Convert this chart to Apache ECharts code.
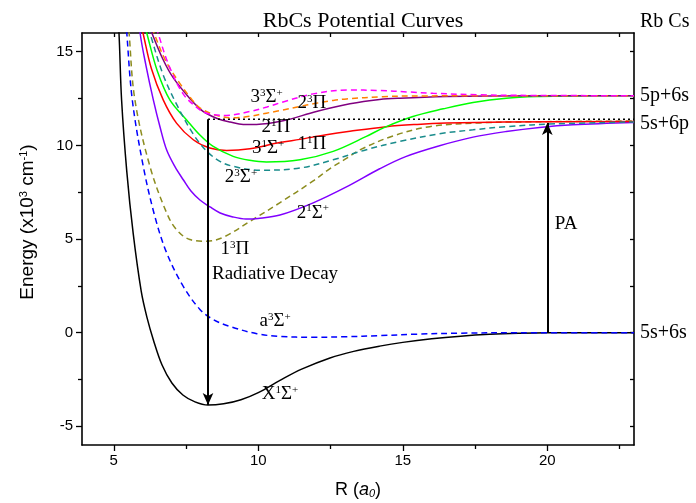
<!DOCTYPE html>
<html><head><meta charset="utf-8">
<script src="https://cdn.jsdelivr.net/npm/echarts@6/dist/echarts.min.js"></script>
<style>html,body{margin:0;padding:0;background:#fff}#c{width:696px;height:503px}</style>
</head><body><div id="c"></div>
<script>
// ---- data (R in a0, energy in 10^3 cm^-1) ----
const X1Sigma = [[5.12,17.2],[5.18,16],[5.27,12.42],[5.45,8.6],[5.67,5.31],[5.95,2.2],[6.15,0.8],[6.37,-0.39],[6.67,-1.73],[7.01,-2.69],[7.39,-3.33],[7.81,-3.7],[8.26,-3.87],[8.8,-3.8],[9.4,-3.58],[10.0,-3.2],[10.75,-2.55],[11.5,-1.95],[12.48,-1.35],[13.3,-1.0],[14.2,-0.72],[15,-0.52],[16,-0.33],[17,-0.19],[18,-0.09],[19,-0.03],[20,0],[23,0]];
const a3Sigma = [[5.4,17.2],[5.45,16],[5.64,12.43],[6.02,8.88],[6.42,6.21],[6.83,4.26],[7.4,2.48],[7.98,1.24],[8.43,0.71],[9.0,0.34],[9.95,-0.06],[10.74,-0.2],[11.88,-0.25],[13,-0.22],[14.2,-0.16],[15.5,-0.08],[17,-0.03],[19,0],[23,0]];
const b3Pi = [[5.48,17.2],[5.53,16],[5.73,12.43],[6.25,8.88],[6.83,6.39],[7.17,5.5],[7.63,4.97],[8.21,4.88],[8.8,5.1],[9.77,6.0],[10.74,6.93],[11.9,8.1],[12.47,8.75],[13.05,9.3],[13.5,9.75],[14.66,10.5],[15.93,11.0],[17.66,11.2],[19,11.25],[23,11.3]];
const A1Sigma = [[5.86,17.2],[5.91,16],[6.11,14.29],[6.37,12.42],[6.6,10.98],[6.83,9.75],[7.12,8.85],[7.41,8.15],[7.67,7.56],[7.98,7.08],[8.33,6.71],[8.68,6.39],[9.12,6.18],[9.57,6.07],[9.99,6.1],[10.75,6.28],[11.9,6.93],[13.05,7.78],[14.2,8.75],[15.1,9.4],[16.27,9.98],[17.43,10.44],[18.58,10.74],[19.73,10.96],[20.88,11.1],[23,11.22]];
const B1Pi = [[5.96,16.3],[6.01,16],[6.3,14.1],[6.71,12.43],[7.17,11.19],[7.75,10.3],[8.32,9.86],[8.9,9.73],[9.71,9.82],[10.74,10.15],[11.44,10.32],[12.3,10.55],[13.17,10.75],[14.43,11.0],[15.5,11.12],[16.5,11.19],[18.5,11.25],[23,11.28]];
const S31Sigma = [[6.09,16.3],[6.14,16],[6.5,14],[6.94,12.43],[7.52,11.36],[7.98,10.55],[8.44,9.94],[9.13,9.41],[9.7,9.2],[10.28,9.11],[11.44,9.23],[12.59,9.68],[13.74,10.48],[14.35,10.95],[15.35,11.54],[16.4,11.95],[17.43,12.29],[18.58,12.52],[19.73,12.61],[21,12.64],[23,12.65]];
const S23Sigma = [[6.2,16.3],[6.25,16],[6.7,13.8],[7.17,12.2],[7.75,10.6],[8.21,9.7],[8.67,9.15],[9.13,8.88],[10.05,8.67],[11.44,8.79],[12.59,9.23],[13.74,9.77],[14.9,10.21],[16.27,10.62],[17.43,10.83],[18.58,11.0],[20.3,11.15],[23,11.25]];
const P21Pi = [[6.27,16.3],[6.32,16],[6.7,14.6],[7.06,13.6],[7.63,12.5],[7.98,11.95],[8.21,11.7],[8.6,11.42],[9.02,11.25],[9.48,11.12],[9.94,11.12],[10.86,11.31],[12.01,11.81],[13.17,12.22],[14.2,12.45],[14.9,12.52],[16.51,12.61],[18,12.64],[23,12.65]];
const P23Pi = [[6.34,16.3],[6.39,16],[6.8,14.5],[7.29,13.3],[7.7,12.45],[7.98,12.0],[8.55,11.6],[9.13,11.47],[9.7,11.55],[10.28,11.72],[10.74,11.85],[11.44,12.08],[11.9,12.22],[12.59,12.4],[13.05,12.48],[14.31,12.6],[15.35,12.64],[23,12.65]];
const S33Sigma = [[6.48,16.3],[6.53,16],[6.9,14.3],[7.4,12.75],[7.98,11.9],[8.32,11.68],[8.9,11.6],[9.71,11.81],[10.3,12.05],[10.86,12.32],[11.9,12.75],[13.1,12.96],[14.2,12.93],[15.2,12.85],[16.05,12.78],[17.66,12.7],[19,12.67],[23,12.65]];
const paLevel = [[8.26,11.4],[23,11.4]];
const decayArrow = [[8.26,11.4],[8.26,-3.87]];
const paArrow = [[20,0],[20,11.2]];

const xLabelTicks = [5,10,15,20];
const xMinorTicks = [7.5,12.5,17.5,22.5];
const xAllTicks = [5,7.5,10,12.5,15,17.5,20,22.5];
const yLabelTicks = [-5,0,5,10,15];
const yMinorTicks = [-2.5,2.5,7.5,12.5];
const yAllTicks = [-5,-2.5,0,2.5,5,7.5,10,12.5,15];

const curveLabels = [
  ['3{s|3}Σ{s|+}', 10.29, 12.6],
  ['2{s|3}Π', 11.85, 12.27],
  ['2{s|1}Π', 10.61, 10.99],
  ['1{s|1}Π', 11.85, 10.09],
  ['3{s|1}Σ{s|+}', 10.34, 9.87],
  ['2{s|3}Σ{s|+}', 9.4, 8.33],
  ['2{s|1}Σ{s|+}', 11.89, 6.41],
  ['1{s|3}Π', 9.19, 4.44],
  ['Radiative Decay', 10.58, 3.11],
  ['a{s|3}Σ{s|+}', 10.58, 0.6],
  ['X{s|1}Σ{s|+}', 10.75, -3.3],
  ['PA', 20.65, 5.82]
];
const asymptoteLabels = [['5p+6s', 12.65], ['5s+6p', 11.15], ['5s+6s', 0]];

// ---- styles ----
const SERIF = '"Liberation Serif","Times New Roman",serif';
const SANS = '"Liberation Sans",Arial,sans-serif';
const curveDefs = [
  {data: X1Sigma, color: '#000000', dashed: false},
  {data: a3Sigma, color: '#0000ff', dashed: true},
  {data: b3Pi, color: '#8c8c1e', dashed: true},
  {data: A1Sigma, color: '#8000ff', dashed: false},
  {data: B1Pi, color: '#ff0000', dashed: false},
  {data: S31Sigma, color: '#00ff00', dashed: false},
  {data: S23Sigma, color: '#1a8c8c', dashed: true},
  {data: P21Pi, color: '#800080', dashed: false},
  {data: P23Pi, color: '#ff8000', dashed: true},
  {data: S33Sigma, color: '#ff00ff', dashed: true}
];

const chart = echarts.init(document.getElementById('c'), null, {renderer: 'canvas'});
const axisLineStyle = {color: '#000', width: 1.6};
const series = curveDefs.map(d => ({
  type: 'line', data: d.data, showSymbol: false, smooth: 0.35, clip: true,
  xAxisIndex: 0, yAxisIndex: 0, silent: true,
  lineStyle: {color: d.color, width: 1.5, type: d.dashed ? [6, 4] : 'solid'}
}));
series.push({type: 'line', data: paLevel, showSymbol: false, xAxisIndex: 0, yAxisIndex: 0,
  lineStyle: {color: '#000', width: 1.5, type: [2, 3]}});
series.push({type: 'line', data: [], xAxisIndex: 0, yAxisIndex: 0,
  markLine: {silent: true, symbol: ['none', 'arrow'], symbolSize: [8, 12], label: {show: false},
    lineStyle: {color: '#000', width: 2, type: 'solid'},
    data: [
      [{coord: decayArrow[0]}, {coord: decayArrow[1]}],
      [{coord: paArrow[0]}, {coord: paArrow[1]}]
    ]}});

const xBase = {type: 'value', min: 3.9, max: 23, splitLine: {show: false}};
const yBase = {type: 'value', min: -6, max: 16, splitLine: {show: false}};
chart.setOption({
  animation: false,
  backgroundColor: '#fff',
  title: {text: 'RbCs Potential Curves', left: 358, top: 5, textAlign: 'center',
    textStyle: {fontFamily: SERIF, fontSize: 22, fontWeight: 'normal', color: '#000'}},
  grid: {left: 82, right: 62, top: 33, bottom: 58, containLabel: false, outerBoundsMode: 'none'},
  xAxis: [
    Object.assign({}, xBase, {position: 'bottom', axisLine: {show: true, onZero: false, lineStyle: axisLineStyle},
      axisTick: {show: true, inside: false, length: 6, customValues: xLabelTicks, lineStyle: {color: '#000', width: 1.3}},
      axisLabel: {show: true, customValues: xLabelTicks, margin: 8, color: '#000', fontFamily: SANS, fontSize: 15}}),
    Object.assign({}, xBase, {position: 'bottom', axisLine: {show: false, onZero: false},
      axisTick: {show: true, inside: false, length: 4, customValues: xMinorTicks, lineStyle: {color: '#000', width: 1.3}},
      axisLabel: {show: false}}),
    Object.assign({}, xBase, {position: 'top', axisLine: {show: true, onZero: false, lineStyle: axisLineStyle},
      axisTick: {show: true, inside: true, length: 4, customValues: xAllTicks, lineStyle: {color: '#000', width: 1.3}},
      axisLabel: {show: false}})
  ],
  yAxis: [
    Object.assign({}, yBase, {position: 'left', axisLine: {show: true, onZero: false, lineStyle: axisLineStyle},
      axisTick: {show: true, inside: false, length: 6, customValues: yLabelTicks, lineStyle: {color: '#000', width: 1.3}},
      axisLabel: {show: true, customValues: yLabelTicks, margin: 9, color: '#000', fontFamily: SANS, fontSize: 15}}),
    Object.assign({}, yBase, {position: 'left', axisLine: {show: false, onZero: false},
      axisTick: {show: true, inside: false, length: 4, customValues: yMinorTicks, lineStyle: {color: '#000', width: 1.3}},
      axisLabel: {show: false}}),
    Object.assign({}, yBase, {position: 'right', axisLine: {show: true, onZero: false, lineStyle: axisLineStyle},
      axisTick: {show: true, inside: true, length: 4, customValues: yAllTicks, lineStyle: {color: '#000', width: 1.3}},
      axisLabel: {show: false}})
  ],
  series: series
});

// ---- text annotations placed through the axes ----
const supRich = {s: {fontSize: 11, fontFamily: SERIF, fill: '#000', verticalAlign: 'top'}};
const graphics = [];
curveLabels.forEach(([t, x, y]) => {
  const p = chart.convertToPixel({xAxisIndex: 0, yAxisIndex: 0}, [x, y]);
  graphics.push({type: 'text', x: p[0], y: p[1], silent: true, z: 100,
    style: {text: t, fontFamily: SERIF, fontSize: 19, fill: '#000', align: 'center', verticalAlign: 'middle', rich: supRich}});
});
const rightX = chart.convertToPixel({xAxisIndex: 0}, 23) + 6;
asymptoteLabels.forEach(([t, y]) => {
  const py = chart.convertToPixel({yAxisIndex: 0}, y);
  graphics.push({type: 'text', x: rightX, y: py, silent: true, z: 100,
    style: {text: t, fontFamily: SERIF, fontSize: 20, fill: '#000', align: 'left', verticalAlign: 'middle'}});
});
graphics.push({type: 'text', x: rightX, y: 22, silent: true,
  style: {text: 'Rb Cs', fontFamily: SERIF, fontSize: 20, fill: '#000', align: 'left', verticalAlign: 'middle'}});
graphics.push({type: 'text', x: 28, y: 222, rotation: Math.PI / 2, silent: true,
  style: {text: 'Energy (x10{s|3} cm{s|-1})', fontFamily: SANS, fontSize: 19, fill: '#000', align: 'center', verticalAlign: 'middle',
    rich: {s: {fontSize: 11, fontFamily: SANS, fill: '#000', verticalAlign: 'top'}}}});
graphics.push({type: 'text', x: 358, y: 490, silent: true,
  style: {text: 'R ({i|a}{b|0})', fontFamily: SANS, fontSize: 18, fill: '#000', align: 'center', verticalAlign: 'middle',
    rich: {i: {fontSize: 18, fontStyle: 'italic', fontFamily: SANS, fill: '#000'},
           b: {fontSize: 11, fontStyle: 'italic', fontFamily: SANS, fill: '#000', verticalAlign: 'bottom'}}}});
chart.setOption({graphic: graphics});
</script>
</body></html>
